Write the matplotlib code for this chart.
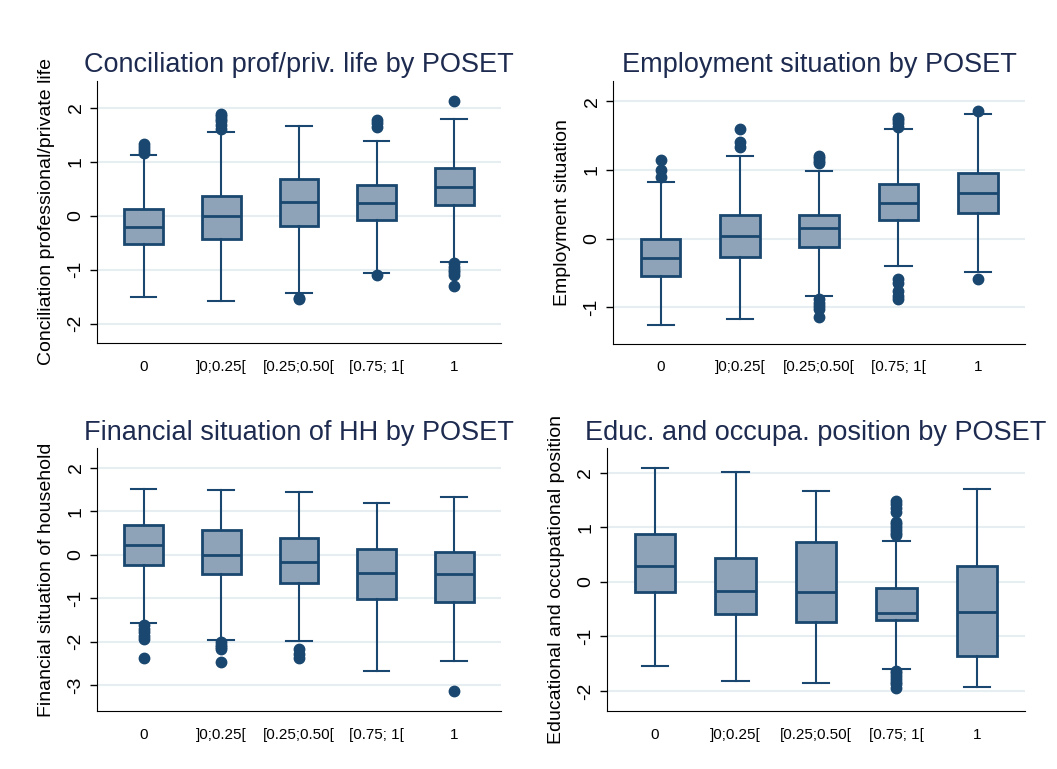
import numpy as np
import matplotlib
matplotlib.use("Agg")
import matplotlib.pyplot as plt

plt.rcParams['font.family'] = ['Liberation Sans', 'DejaVu Sans']
plt.rcParams['axes.unicode_minus'] = False

# POSET categories (x axis)
categories = ["0", "]0;0.25[", "[0.25;0.50[", "[0.75; 1[", "1"]

# panel 1: conciliation professional/private life
conc_q1 = [-0.53, -0.43, -0.20, -0.09, 0.19]
conc_med = [-0.21, 0.00, 0.25, 0.24, 0.53]
conc_q3 = [0.12, 0.36, 0.67, 0.56, 0.88]
conc_lo = [-1.51, -1.58, -1.44, -1.06, -0.86]
conc_hi = [1.13, 1.55, 1.66, 1.39, 1.79]
conc_out = [[1.16, 1.22, 1.28, 1.33],
            [1.60, 1.68, 1.75, 1.80, 1.85, 1.89],
            [-1.52, -1.55],
            [1.64, 1.72, 1.77, -1.10],
            [2.12, -0.88, -0.95, -1.00, -1.05, -1.10, -1.31]]

# panel 2: employment situation
empl_q1 = [-0.55, -0.27, -0.12, 0.27, 0.37]
empl_med = [-0.28, 0.04, 0.15, 0.52, 0.665]
empl_q3 = [0.00, 0.35, 0.35, 0.80, 0.96]
empl_lo = [-1.25, -1.17, -0.84, -0.40, -0.48]
empl_hi = [0.83, 1.21, 0.99, 1.59, 1.81]
empl_out = [[0.90, 1.00, 1.15],
            [1.34, 1.41, 1.60],
            [1.10, 1.13, 1.17, 1.21, -0.88, -0.93, -0.98, -1.03, -1.14],
            [1.63, 1.68, 1.73, 1.76, -0.59, -0.65, -0.76, -0.84, -0.88],
            [1.86, -0.58]]

# panel 3: financial situation of household
fin_q1 = [-0.23, -0.44, -0.64, -1.01, -1.09]
fin_med = [0.22, 0.00, -0.17, -0.41, -0.44]
fin_q3 = [0.69, 0.57, 0.38, 0.13, 0.06]
fin_lo = [-1.57, -1.95, -1.98, -2.66, -2.43]
fin_hi = [1.52, 1.49, 1.45, 1.19, 1.32]
fin_out = [[-1.62, -1.70, -1.78, -1.86, -1.94, -2.37],
           [-2.00, -2.07, -2.13, -2.16, -2.47],
           [-2.16, -2.29, -2.37],
           [],
           [-3.14]]

# panel 4: educational and occupational position
edu_q1 = [-0.19, -0.60, -0.73, -0.71, -1.37]
edu_med = [0.29, -0.165, -0.18, -0.575, -0.55]
edu_q3 = [0.88, 0.43, 0.73, -0.11, 0.29]
edu_lo = [-1.55, -1.82, -1.86, -1.60, -1.93]
edu_hi = [2.09, 2.01, 1.66, 0.75, 1.69]
edu_out = [[], [], [],
           [0.86, 0.90, 0.95, 1.00, 1.05, 1.10, 1.28, 1.35, 1.42, 1.47,
            -1.63, -1.68, -1.73, -1.78, -1.83, -1.88, -1.94],
           []]

navy = "#1a476f"
fill = "#8fa3b8"
titlecol = "#1e2b50"
gridcol = "#e6eef2"

panels = [
    ("Conciliation prof/priv. life by POSET", "Conciliation professional/private life",
     conc_q1, conc_med, conc_q3, conc_lo, conc_hi, conc_out, (-2.36, 2.5), [-2, -1, 0, 1, 2],
     [0.0918, 0.554, 0.382, 0.341]),
    ("Employment situation by POSET", "Employment situation",
     empl_q1, empl_med, empl_q3, empl_lo, empl_hi, empl_out, (-1.53, 2.30), [-1, 0, 1, 2],
     [0.580, 0.553, 0.390, 0.342]),
    ("Financial situation of HH by POSET", "Financial situation of household",
     fin_q1, fin_med, fin_q3, fin_lo, fin_hi, fin_out, (-3.59, 2.45), [-3, -2, -1, 0, 1, 2],
     [0.0918, 0.0754, 0.382, 0.342]),
    ("Educ. and occupa. position by POSET", "Educational and occupational position",
     edu_q1, edu_med, edu_q3, edu_lo, edu_hi, edu_out, (-2.37, 2.45), [-2, -1, 0, 1, 2],
     [0.574, 0.0754, 0.396, 0.342]),
]

fig = plt.figure(figsize=(10.57, 7.69), dpi=100)

for title, ylabel, q1, med, q3, lo, hi, out, ylim, yticks, rect in panels:
    ax = fig.add_axes(rect)
    stats = []
    for i in range(len(categories)):
        stats.append(dict(q1=q1[i], med=med[i], q3=q3[i], whislo=lo[i], whishi=hi[i],
                          fliers=out[i], label=categories[i]))
    pos = np.arange(1, len(categories) + 1)
    ax.bxp(stats, positions=pos, widths=0.5, capwidths=0.33, patch_artist=True,
           showfliers=True,
           boxprops=dict(facecolor=fill, edgecolor=navy, linewidth=2.0),
           medianprops=dict(color=navy, linewidth=2.0),
           whiskerprops=dict(color=navy, linewidth=1.5),
           capprops=dict(color=navy, linewidth=1.5),
           flierprops=dict(marker='o', markerfacecolor=navy, markeredgecolor=navy,
                           markersize=7.5))
    ax.set_xlim(0.4, 5.6)
    ax.set_ylim(*ylim)
    ax.set_yticks(yticks)
    ax.set_xticks(pos)
    ax.set_xticklabels(categories, fontsize=11)
    ax.tick_params(axis='x', length=0, pad=12)
    ax.tick_params(axis='y', length=5, width=1, pad=4, labelsize=14)
    for lab in ax.get_yticklabels():
        lab.set_rotation(90)
        lab.set_va('center')
    ax.yaxis.grid(True, color=gridcol, linewidth=1.5)
    ax.set_axisbelow(True)
    ax.spines['top'].set_visible(False)
    ax.spines['right'].set_visible(False)
    ax.set_ylabel(ylabel, fontsize=14, labelpad=9)
    ax.set_title(title, fontsize=19.5, color=titlecol, pad=6)

fig.savefig("out.png", dpi=100, facecolor="white")
